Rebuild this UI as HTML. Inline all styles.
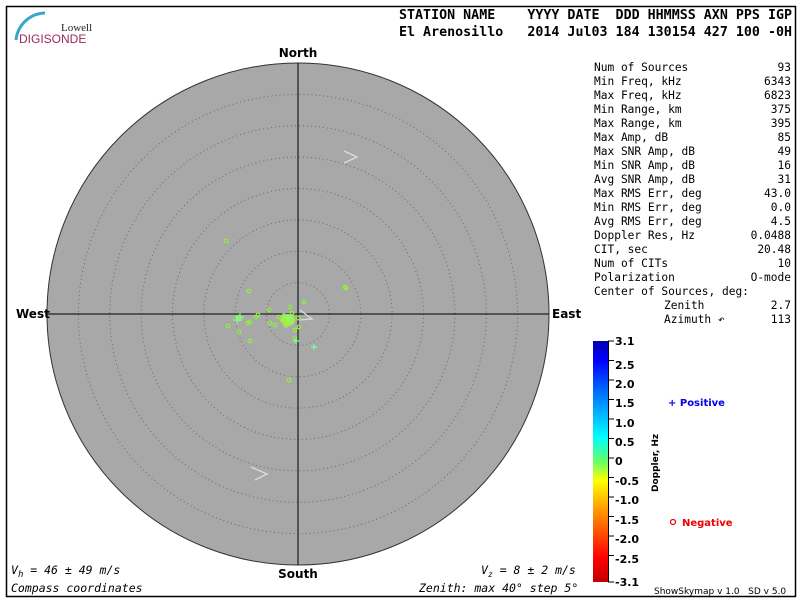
<!DOCTYPE html>
<html><head><meta charset="utf-8"><style>
html,body{margin:0;padding:0;background:#fff}
svg{display:block}
.m{font-family:"DejaVu Sans Mono","Liberation Mono",monospace}
.s{font-family:"DejaVu Sans","Liberation Sans",sans-serif}
</style></head><body>
<svg width="800" height="600" viewBox="0 0 800 600" xmlns="http://www.w3.org/2000/svg">
<defs>
<linearGradient id="cb" x1="0" y1="1" x2="0" y2="0">
<stop offset="0" stop-color="#c00000"/>
<stop offset="0.1" stop-color="#ff0000"/>
<stop offset="0.3" stop-color="#ff9900"/>
<stop offset="0.42" stop-color="#ffff00"/>
<stop offset="0.5" stop-color="#66ff66"/>
<stop offset="0.6" stop-color="#00ffff"/>
<stop offset="0.8" stop-color="#0066ff"/>
<stop offset="0.92" stop-color="#0000ff"/>
<stop offset="1" stop-color="#0000b0"/>
</linearGradient>
</defs>
<rect x="6.5" y="6.5" width="789" height="590" fill="#fff" stroke="#000" stroke-width="1.5"/>
<!-- logo -->
<path d="M16 40 A30 30 0 0 1 45 13" fill="none" stroke="#3aa6c8" stroke-width="3"/>
<text x="61" y="31" class="s" font-family="Liberation Serif,serif" font-size="11" fill="#222" style="font-family:'Liberation Serif',serif">Lowell</text>
<text x="19" y="43" style="font-family:'Liberation Sans',sans-serif" font-size="12" fill="#9a2a5a">DIGISONDE</text>
<!-- header -->
<text x="399" y="19" class="m" font-size="13.3" font-weight="bold" textLength="393" xml:space="preserve">STATION NAME    YYYY DATE  DDD HHMMSS AXN PPS IGP</text>
<text x="399" y="36" class="m" font-size="13.3" font-weight="bold" textLength="393" xml:space="preserve">El Arenosillo   2014 Jul03 184 130154 427 100 -0H</text>
<!-- sky map -->
<circle cx="298" cy="314" r="251" fill="#a8a8a8" stroke="#333" stroke-width="1"/>
<g fill="none" stroke="#6a6a6a" stroke-width="1" stroke-dasharray="1,3">
<circle cx="298" cy="314" r="31.4"/><circle cx="298" cy="314" r="62.8"/><circle cx="298" cy="314" r="94.1"/><circle cx="298" cy="314" r="125.5"/><circle cx="298" cy="314" r="156.9"/><circle cx="298" cy="314" r="188.3"/><circle cx="298" cy="314" r="219.6"/>
</g>
<line x1="298" y1="63" x2="298" y2="565" stroke="#000"/>
<line x1="47" y1="314" x2="549" y2="314" stroke="#000"/>
<g fill="none" stroke="#dcdcdc" stroke-width="1.3">
<polyline points="344,151 357,157 344,163"/>
<polyline points="251,467 267,474 255,480"/>
<polyline points="300,310 312,319 300,320"/>
</g>
<text x="298" y="57" class="s" font-size="12" font-weight="bold" text-anchor="middle">North</text>
<text x="298" y="578" class="s" font-size="12" font-weight="bold" text-anchor="middle">South</text>
<text x="16" y="318" class="s" font-size="12" font-weight="bold">West</text>
<text x="552" y="318" class="s" font-size="12" font-weight="bold">East</text>
<!-- points -->
<g fill="none" stroke="#8fee40" stroke-width="1.2">
<circle cx="226" cy="241" r="1.8"/><circle cx="345" cy="287" r="1.8"/><circle cx="346" cy="288" r="1.8"/>
<circle cx="249" cy="291" r="1.8"/><circle cx="304" cy="302" r="1.8"/><circle cx="290" cy="307" r="1.8"/>
<circle cx="269" cy="310" r="1.8"/><circle cx="258" cy="315" r="1.8"/><circle cx="237" cy="317" r="1.8"/>
<circle cx="240" cy="319" r="1.8"/><circle cx="270" cy="323" r="1.8"/><circle cx="248" cy="323" r="1.8"/>
<circle cx="250" cy="322" r="1.8"/><circle cx="256" cy="317" r="1.8"/><circle cx="228" cy="326" r="1.8"/>
<circle cx="239" cy="332" r="1.8"/><circle cx="250" cy="341" r="1.8"/><circle cx="279" cy="317" r="1.8"/>
<circle cx="275" cy="325" r="1.8"/><circle cx="282" cy="320" r="1.8"/><circle cx="295" cy="330" r="1.8"/>
<circle cx="299" cy="327" r="1.8"/><circle cx="295" cy="338" r="1.8"/><circle cx="289" cy="380" r="1.8"/>
<circle cx="298" cy="318" r="1.8"/><circle cx="292" cy="313" r="1.8"/>
</g>
<g fill="#a8ee30">
<ellipse cx="288" cy="320" rx="7" ry="6"/>
</g>
<g fill="none" stroke="#99ee66" stroke-width="1.3">
<circle cx="284" cy="316" r="2"/><circle cx="292" cy="318" r="2"/><circle cx="286" cy="325" r="2"/><circle cx="290" cy="323" r="2"/>
</g>
<g stroke="#80ffa0" stroke-width="1.2">
<path d="M233 320h8M237 316v8M236 317h8M240 313v8M293 341h6M296 338v6M311 347h6M314 344v6M284 318h8M288 314v8"/>
</g>
<!-- stats -->
<g class="m" font-size="11.2" fill="#000">
<text x="594" y="71">Num of Sources</text><text x="791" y="71" text-anchor="end">93</text>
<text x="594" y="85">Min Freq, kHz</text><text x="791" y="85" text-anchor="end">6343</text>
<text x="594" y="99">Max Freq, kHz</text><text x="791" y="99" text-anchor="end">6823</text>
<text x="594" y="113">Min Range, km</text><text x="791" y="113" text-anchor="end">375</text>
<text x="594" y="127">Max Range, km</text><text x="791" y="127" text-anchor="end">395</text>
<text x="594" y="141">Max Amp, dB</text><text x="791" y="141" text-anchor="end">85</text>
<text x="594" y="155">Max SNR Amp, dB</text><text x="791" y="155" text-anchor="end">49</text>
<text x="594" y="169">Min SNR Amp, dB</text><text x="791" y="169" text-anchor="end">16</text>
<text x="594" y="183">Avg SNR Amp, dB</text><text x="791" y="183" text-anchor="end">31</text>
<text x="594" y="197">Max RMS Err, deg</text><text x="791" y="197" text-anchor="end">43.0</text>
<text x="594" y="211">Min RMS Err, deg</text><text x="791" y="211" text-anchor="end">0.0</text>
<text x="594" y="225">Avg RMS Err, deg</text><text x="791" y="225" text-anchor="end">4.5</text>
<text x="594" y="239">Doppler Res, Hz</text><text x="791" y="239" text-anchor="end">0.0488</text>
<text x="594" y="253">CIT, sec</text><text x="791" y="253" text-anchor="end">20.48</text>
<text x="594" y="267">Num of CITs</text><text x="791" y="267" text-anchor="end">10</text>
<text x="594" y="281">Polarization</text><text x="791" y="281" text-anchor="end">O-mode</text>
<text x="594" y="295">Center of Sources, deg:</text>
<text x="664" y="309">Zenith</text><text x="791" y="309" text-anchor="end">2.7</text>
<text x="664" y="323">Azimuth ↶</text><text x="791" y="323" text-anchor="end">113</text>
</g>
<!-- colorbar -->
<rect x="593" y="341" width="15" height="241" fill="url(#cb)"/>
<g stroke="#000" stroke-width="1">
<line x1="608.5" y1="341" x2="608.5" y2="582"/>
<path d="M608 341h6M608 360.5h6M608 380h6M608 399.5h6M608 419h6M608 438.5h6M608 458h6M608 477.5h6M608 497h6M608 516.5h6M608 536h6M608 555.5h6M608 582h6"/>
</g>
<g class="s" font-size="11" font-weight="bold">
<text x="615" y="345">3.1</text><text x="615" y="369">2.5</text><text x="615" y="388">2.0</text><text x="615" y="407">1.5</text>
<text x="615" y="427">1.0</text><text x="615" y="446">0.5</text><text x="615" y="465">0</text><text x="615" y="485">-0.5</text>
<text x="615" y="504">-1.0</text><text x="615" y="524">-1.5</text><text x="615" y="543">-2.0</text><text x="615" y="563">-2.5</text>
<text x="615" y="586">-3.1</text>
</g>
<text transform="translate(658,492) rotate(-90)" class="s" font-size="9" font-weight="bold">Doppler, Hz</text>
<text x="668" y="406" class="s" font-size="10" font-weight="bold" fill="#0000ee">+ Positive</text>
<circle cx="673" cy="522" r="2.5" fill="none" stroke="#ee0000" stroke-width="1.2"/>
<text x="682" y="526" class="s" font-size="10" font-weight="bold" fill="#ee0000">Negative</text>
<!-- bottom texts -->
<g class="m" font-size="11.5" font-style="italic">
<text x="11" y="574">V<tspan font-size="9" dy="3">h</tspan><tspan dy="-3"> = 46 ± 49 m/s</tspan></text>
<text x="11" y="592">Compass coordinates</text>
<text x="481" y="574">V<tspan font-size="8" dy="3">z</tspan><tspan dy="-3"> = 8 ± 2 m/s</tspan></text>
<text x="419" y="592">Zenith: max 40°  step 5°</text>
</g>
<text x="654" y="594" class="s" font-size="9" xml:space="preserve">ShowSkymap v 1.0   SD v 5.0</text>
</svg>
</body></html>
